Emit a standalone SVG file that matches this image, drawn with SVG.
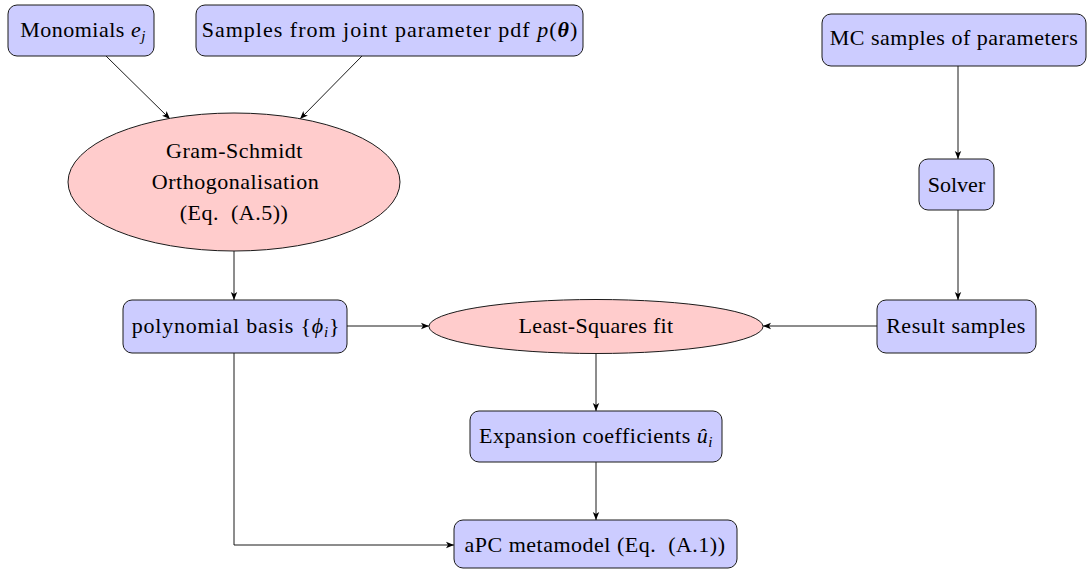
<svg xmlns="http://www.w3.org/2000/svg" width="1089" height="569" viewBox="0 0 1089 569">
<defs>
<marker id="ah" viewBox="0 0 10 10" refX="10" refY="5" markerWidth="8" markerHeight="8" markerUnits="userSpaceOnUse" orient="auto">
<path d="M0,1 L10,5 L0,9 L2.5,5 Z" fill="#000"/>
</marker>
</defs>
<rect width="1089" height="569" fill="#fff"/>
<g id="connectors" fill="none" stroke="#000" stroke-width="0.9">
<line x1="106" y1="56" x2="170" y2="119" marker-end="url(#ah)"/>
<line x1="362" y1="56" x2="300" y2="119" marker-end="url(#ah)"/>
<line x1="234" y1="251" x2="234" y2="300" marker-end="url(#ah)"/>
<line x1="958" y1="66" x2="958" y2="159" marker-end="url(#ah)"/>
<line x1="958" y1="210" x2="958" y2="300" marker-end="url(#ah)"/>
<line x1="347" y1="326" x2="429" y2="326" marker-end="url(#ah)"/>
<line x1="877" y1="326" x2="763" y2="326" marker-end="url(#ah)"/>
<line x1="596" y1="353" x2="596" y2="411" marker-end="url(#ah)"/>
<line x1="596" y1="462" x2="596" y2="520" marker-end="url(#ah)"/>
<polyline points="234,353 234,545 454,545" marker-end="url(#ah)"/>
</g>
<g id="monomials">
<rect x="8" y="5" width="146" height="51" rx="9" fill="#ccccff" stroke="#1a1a1a"/>
<text x="83" y="37" font-family="Liberation Serif" font-size="22" letter-spacing="0.5" text-anchor="middle">Monomials <tspan font-style="italic">e</tspan><tspan font-style="italic" font-size="15" dy="4">j</tspan></text>
</g>
<g id="samples">
<rect x="196" y="5" width="387" height="51" rx="9" fill="#ccccff" stroke="#1a1a1a"/>
<text x="390" y="37" font-family="Liberation Serif" font-size="22" letter-spacing="1" text-anchor="middle">Samples from joint parameter pdf <tspan font-style="italic">p</tspan>(<tspan font-weight="bold" font-style="italic">θ</tspan>)</text>
</g>
<g id="mc">
<rect x="822" y="14" width="264" height="52" rx="9" fill="#ccccff" stroke="#1a1a1a"/>
<text x="954" y="45" font-family="Liberation Serif" font-size="22" letter-spacing="0.5" text-anchor="middle">MC samples of parameters</text>
</g>
<g id="gram">
<ellipse cx="234" cy="182" rx="166" ry="69" fill="#ffcccc" stroke="#1a1a1a"/>
<text x="234.5" y="158" font-family="Liberation Serif" font-size="22" letter-spacing="0.5" text-anchor="middle">Gram-Schmidt</text>
<text x="235.5" y="189" font-family="Liberation Serif" font-size="22" letter-spacing="0.5" text-anchor="middle">Orthogonalisation</text>
<text x="234" y="220" font-family="Liberation Serif" font-size="22" letter-spacing="0.5" text-anchor="middle" xml:space="preserve">(Eq.  (A.5))</text>
</g>
<g id="solver">
<rect x="919" y="159" width="75" height="51" rx="9" fill="#ccccff" stroke="#1a1a1a"/>
<text x="956.5" y="192" font-family="Liberation Serif" font-size="22" text-anchor="middle">Solver</text>
</g>
<g id="poly">
<rect x="123" y="300" width="224" height="53" rx="9" fill="#ccccff" stroke="#1a1a1a"/>
<text x="236" y="333" font-family="Liberation Serif" font-size="22" letter-spacing="0.8" text-anchor="middle">polynomial basis {<tspan font-style="italic">ϕ</tspan><tspan font-style="italic" font-size="15" dy="4">i</tspan><tspan dy="-4">}</tspan></text>
</g>
<g id="lsq">
<ellipse cx="596" cy="326.5" rx="167" ry="27" fill="#ffcccc" stroke="#1a1a1a"/>
<text x="596" y="333" font-family="Liberation Serif" font-size="22" letter-spacing="0.3" text-anchor="middle">Least-Squares fit</text>
</g>
<g id="result">
<rect x="877" y="300" width="159" height="53" rx="9" fill="#ccccff" stroke="#1a1a1a"/>
<text x="956" y="333" font-family="Liberation Serif" font-size="22" letter-spacing="0.5" text-anchor="middle">Result samples</text>
</g>
<g id="expansion">
<rect x="470" y="411" width="252" height="51" rx="9" fill="#ccccff" stroke="#1a1a1a"/>
<text x="596" y="443" font-family="Liberation Serif" font-size="22" letter-spacing="0.5" text-anchor="middle">Expansion coefficients <tspan font-style="italic">û</tspan><tspan font-style="italic" font-size="15" dy="4">i</tspan></text>
</g>
<g id="apc">
<rect x="454" y="520" width="283" height="48" rx="9" fill="#ccccff" stroke="#1a1a1a"/>
<text x="595" y="552" font-family="Liberation Serif" font-size="22" letter-spacing="0.5" text-anchor="middle" xml:space="preserve">aPC metamodel (Eq.  (A.1))</text>
</g>
</svg>
